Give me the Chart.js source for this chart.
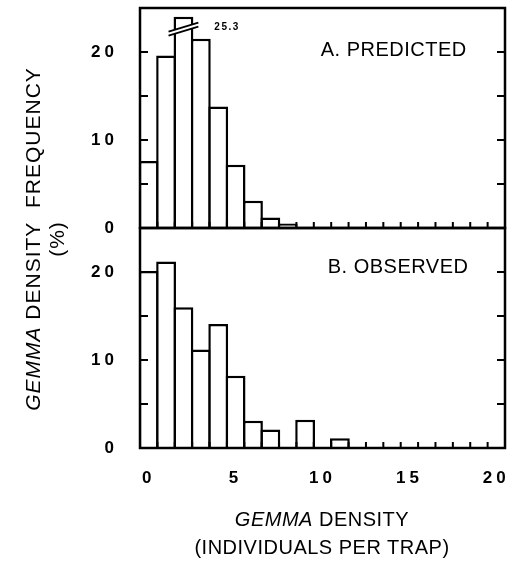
<!DOCTYPE html>
<html>
<head>
<meta charset="utf-8">
<script src="https://cdn.jsdelivr.net/npm/chart.js@4.4.0/dist/chart.umd.min.js"></script>
<style>
    html, body { margin: 0; padding: 0; background: #fff; }
    #wrap { position: relative; width: 514px; height: 571px; overflow: hidden;
            font-family: "Liberation Sans", Arial, sans-serif; color: #000; }
    #wrap canvas { position: absolute; left: 0; top: 0; }
    .ytitle { position: absolute; left: -155px; top: 215px; width: 400px; height: 48px;
              transform: rotate(-90deg); text-align: center; font-size: 21px; line-height: 24px;
              letter-spacing: 1px; white-space: nowrap; }
    .xtitle { position: absolute; left: 122px; width: 400px; text-align: center; font-size: 20px;
              letter-spacing: 0.5px; white-space: nowrap; }
</style>
</head>
<body>
<div id="wrap">
    <canvas id="panel-a" width="514" height="571"></canvas>
    <canvas id="panel-b" width="514" height="571"></canvas>
    <div class="ytitle"><i>GEMMA</i> DENSITY&nbsp; FREQUENCY<br>(%)</div>
    <div class="xtitle" style="top:508px"><i>GEMMA</i> DENSITY</div>
    <div class="xtitle" style="top:536px">(INDIVIDUALS PER TRAP)</div>
</div>
<script>
// gemma density (individuals per trap), one bar per count
var DENSITY = [0, 1, 2, 3, 4, 5, 6, 7, 8, 9, 10, 11];
// frequency (%)
var PREDICTED = [7.6, 19.6, 25.3, 21.5, 13.8, 7.2, 3.1, 1.2, 0.5, 0, 0, 0];
var OBSERVED = [20.1, 21.2, 16.0, 11.2, 14.1, 8.2, 3.1, 2.1, 0, 3.2, 0, 1.1];

var X_TICKS = [0, 5, 10, 15, 20];
var Y_TICKS = [0, 10, 20];
var Y_MARKS = [5, 10, 15, 20];
var X_MIN = -0.5;
var X_MAX = 20.5;
var Y_MAX = 25;
var BREAK_AT = 24;      // bars taller than this are cut with a break mark
var BREAK_MID = 22.6;
var PANEL_LABELS = ['A. PREDICTED', 'B. OBSERVED'];
var LABEL_POS = [[9.9, 20.2], [10.3, 20.5]];

var FONT = '"Liberation Sans", Arial, sans-serif';

var framePlugin = {
    id: 'panelFrame',
    beforeDraw: function (chart) {
        chart.ctx.letterSpacing = '4px';
    },
    afterDatasetsDraw: function (chart, args, opts) {
        var ctx = chart.ctx;
        var a = chart.chartArea;
        var xs = chart.scales.x;
        var ys = chart.scales.y;
        ctx.save();
        ctx.strokeStyle = '#000';
        ctx.lineWidth = 2.5;
        ctx.strokeRect(a.left, a.top, a.right - a.left, a.bottom - a.top);

        // inward tick marks
        ctx.lineWidth = 2;
        ctx.beginPath();
        for (var v = X_MIN + 1; v < X_MAX; v++) {
            var px = xs.getPixelForValue(v);
            ctx.moveTo(px, a.bottom);
            ctx.lineTo(px, a.bottom - 6);
        }
        Y_MARKS.forEach(function (m) {
            var py = ys.getPixelForValue(m);
            ctx.moveTo(a.left, py);
            ctx.lineTo(a.left + 8, py);
            ctx.moveTo(a.right, py);
            ctx.lineTo(a.right - 8, py);
        });
        ctx.stroke();

        // broken bars
        var meta = chart.getDatasetMeta(0);
        opts.values.forEach(function (val, i) {
            if (val <= BREAK_AT) return;
            var bar = meta.data[i];
            var half = bar.width / 2;
            var cy = ys.getPixelForValue(BREAK_MID);
            var x0 = bar.x - half - 5;
            var x1 = bar.x + half + 5;
            var rise = 9;
            ctx.fillStyle = '#fff';
            ctx.beginPath();
            ctx.moveTo(x0, cy + rise / 2 + 2);
            ctx.lineTo(x1, cy - rise / 2 + 2);
            ctx.lineTo(x1, cy - rise / 2 - 2);
            ctx.lineTo(x0, cy + rise / 2 - 2);
            ctx.closePath();
            ctx.fill();
            ctx.lineWidth = 1.8;
            ctx.beginPath();
            ctx.moveTo(x0, cy + rise / 2 + 2);
            ctx.lineTo(x1, cy - rise / 2 + 2);
            ctx.moveTo(x0, cy + rise / 2 - 2);
            ctx.lineTo(x1, cy - rise / 2 - 2);
            ctx.stroke();
            ctx.fillStyle = '#000';
            ctx.font = 'bold 10px ' + FONT;
            ctx.letterSpacing = '1.5px';
            ctx.textAlign = 'left';
            ctx.textBaseline = 'middle';
            ctx.fillText(val.toFixed(1), x1 + 16, ys.getPixelForValue(BREAK_MID + 0.2));
        });

        // panel label
        ctx.fillStyle = '#000';
        ctx.font = '20px ' + FONT;
        ctx.letterSpacing = '0.5px';
        ctx.textAlign = 'left';
        ctx.textBaseline = 'middle';
        ctx.fillText(opts.label, xs.getPixelForValue(opts.pos[0]), ys.getPixelForValue(opts.pos[1]));
        ctx.restore();
    }
};

function makePanel(id, values, idx, padTop, padBottom, showX) {
    return new Chart(document.getElementById(id), {
        type: 'bar',
        data: {
            datasets: [{
                data: DENSITY.map(function (d, i) {
                    return { x: d, y: Math.min(values[i], BREAK_AT) };
                }),
                backgroundColor: '#fff',
                borderColor: '#000',
                borderWidth: 2.5,
                borderSkipped: 'start',
                barPercentage: 1.14,
                categoryPercentage: 1,
                inflateAmount: 0
            }]
        },
        options: {
            responsive: false,
            animation: false,
            events: [],
            layout: { padding: { left: 0, right: 9, top: padTop, bottom: padBottom } },
            plugins: {
                legend: { display: false },
                tooltip: { enabled: false },
                panelFrame: { values: values, label: PANEL_LABELS[idx], pos: LABEL_POS[idx] }
            },
            scales: {
                x: {
                    type: 'linear',
                    min: X_MIN,
                    max: X_MAX,
                    offset: false,
                    display: showX,
                    grid: { display: false },
                    border: { display: false },
                    afterBuildTicks: function (s) {
                        s.ticks = X_TICKS.map(function (v) { return { value: v }; });
                    },
                    afterFit: function (s) {
                        s.height = showX ? 40 : 0;
                        s.paddingLeft = 0;
                        s.paddingRight = 0;
                    },
                    ticks: {
                        color: '#000',
                        padding: 12,
                        maxRotation: 0,
                        font: { family: FONT, size: 17, weight: 'bold' }
                    }
                },
                y: {
                    min: 0,
                    max: Y_MAX,
                    grid: { display: false },
                    border: { display: false },
                    afterBuildTicks: function (s) {
                        s.ticks = Y_TICKS.map(function (v) { return { value: v }; });
                    },
                    afterFit: function (s) {
                        s.width = 140;
                        s.paddingTop = 0;
                        s.paddingBottom = 0;
                    },
                    ticks: {
                        color: '#000',
                        padding: 14,
                        font: { family: FONT, size: 17, weight: 'bold' }
                    }
                }
            }
        },
        plugins: [framePlugin]
    });
}

makePanel('panel-a', PREDICTED, 0, 8, 571 - 228, false);
makePanel('panel-b', OBSERVED, 1, 228, 571 - 448 - 40, true);
</script>
</body>
</html>
